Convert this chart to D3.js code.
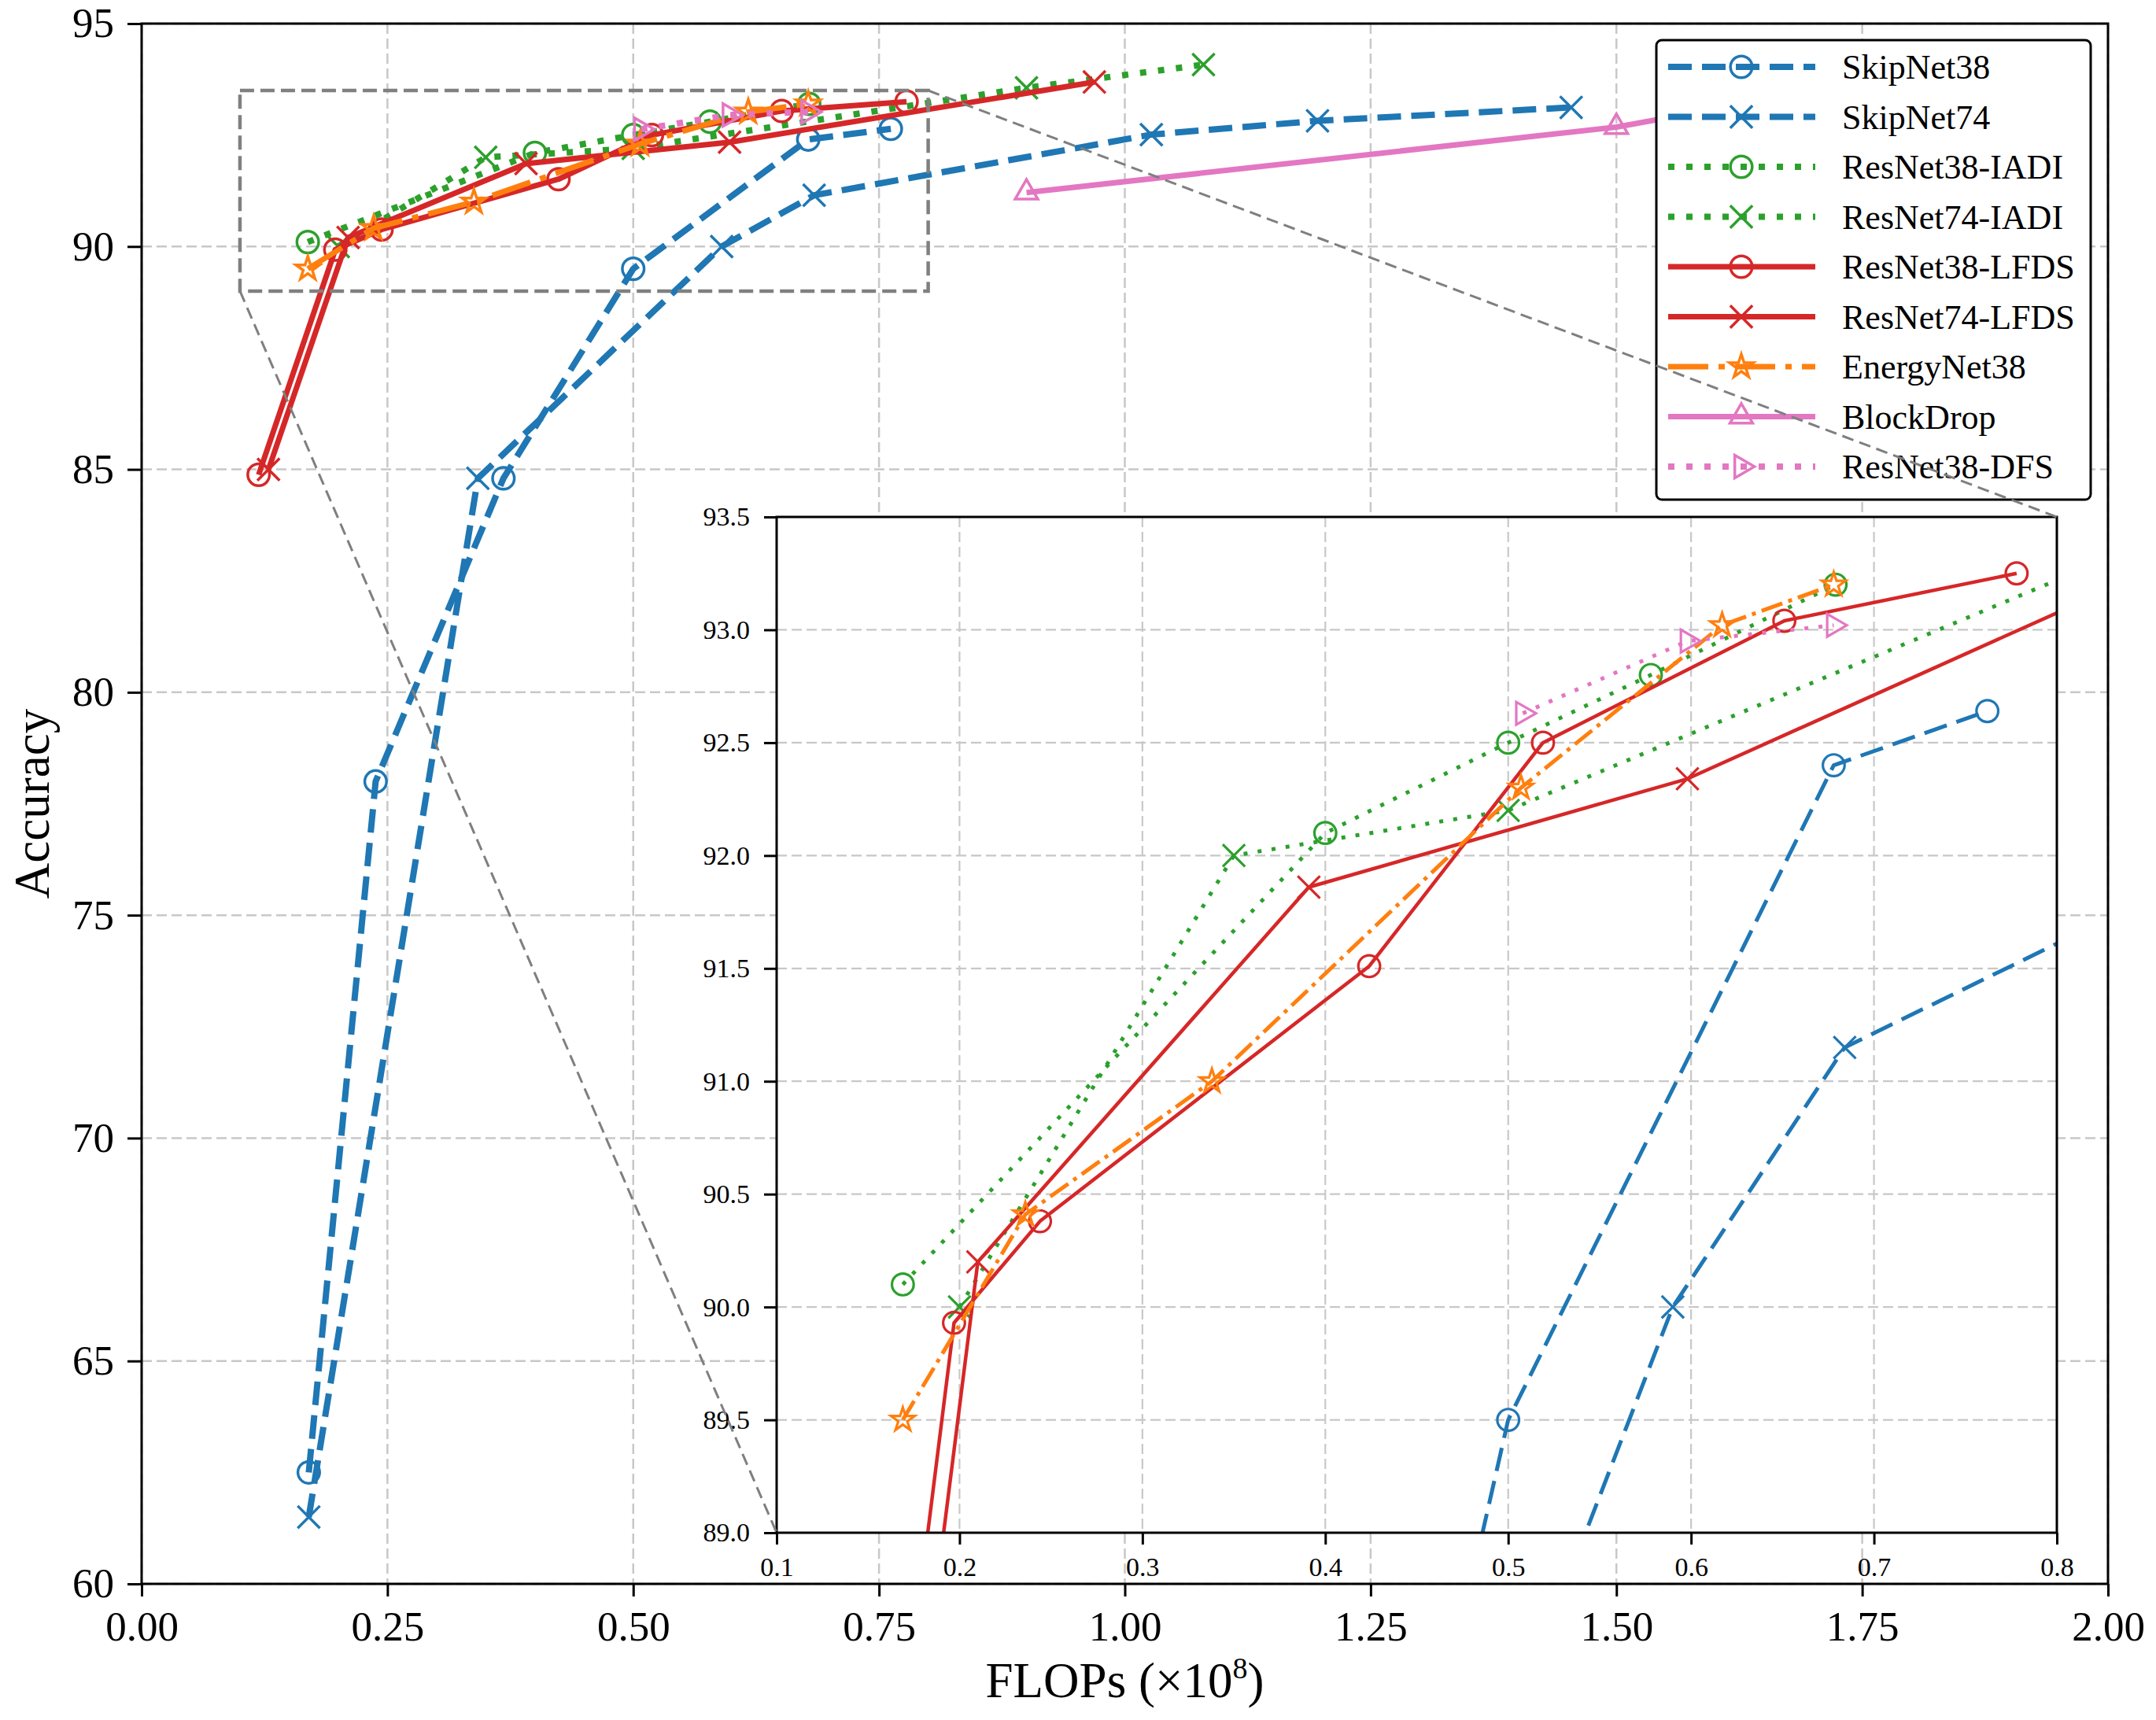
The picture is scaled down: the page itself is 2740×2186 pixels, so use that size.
<!DOCTYPE html>
<html>
<head>
<meta charset="utf-8">
<script src="https://cdn.jsdelivr.net/npm/d3@7"></script>
<style>
  body { margin: 0; background: #fff; }
  text { font-family: "Liberation Serif", "Times New Roman", serif; fill: #000; }
</style>
</head>
<body>
<div id="chart"></div>
<script>
// Data (FLOPs x1e8, accuracy %)
const seriesNames = ["SkipNet38", "SkipNet74", "ResNet38-IADI", "ResNet74-IADI",
  "ResNet38-LFDS", "ResNet74-LFDS", "EnergyNet38", "BlockDrop", "ResNet38-DFS"];

const skipNet38Flops = [0.17, 0.238, 0.368, 0.5, 0.678, 0.762];
const skipNet38Acc   = [62.5, 78.0, 84.8, 89.5, 92.4, 92.64];
const skipNet74Flops = [0.17, 0.342, 0.59, 0.684, 1.027, 1.196, 1.454];
const skipNet74Acc   = [61.5, 84.8, 90.0, 91.15, 92.51, 92.82, 93.12];
const iadi38Flops = [0.169, 0.4, 0.5, 0.578, 0.679];
const iadi38Acc   = [90.1, 92.1, 92.5, 92.8, 93.2];
const iadi74Flops = [0.2, 0.35, 0.5, 0.9, 1.08];
const iadi74Acc   = [90.0, 92.0, 92.2, 93.56, 94.08];
const lfds38Flops = [0.119, 0.197, 0.244, 0.424, 0.519, 0.651, 0.778];
const lfds38Acc   = [84.88, 89.93, 90.38, 91.51, 92.5, 93.04, 93.25];
const lfds74Flops = [0.129, 0.21, 0.391, 0.598, 0.969];
const lfds74Acc   = [85.0, 90.2, 91.86, 92.34, 93.69];
const energyFlops = [0.169, 0.236, 0.338, 0.507, 0.617, 0.678];
const energyAcc   = [89.5, 90.41, 91.0, 92.3, 93.02, 93.2];
const blockDropFlops = [0.9, 1.5, 1.73];
const blockDropAcc   = [91.21, 92.68, 93.6];
const dfsFlops = [0.508, 0.598, 0.678];
const dfsAcc   = [92.63, 92.95, 93.02];

const xTicks = [0, 0.25, 0.5, 0.75, 1.0, 1.25, 1.5, 1.75, 2.0];
const yTicks = [60, 65, 70, 75, 80, 85, 90, 95];
const insetXTicks = [0.1, 0.2, 0.3, 0.4, 0.5, 0.6, 0.7, 0.8];
const insetYTicks = [89.0, 89.5, 90.0, 90.5, 91.0, 91.5, 92.0, 92.5, 93.0, 93.5];
const zoomX = [0.1, 0.8];
const zoomY = [89, 93.5];

// styles per series (same order as seriesNames)
const blue = "#1f77b4", orange = "#ff7f0e", green = "#2ca02c", red = "#d62728", pink = "#e377c2";
const styles = [
  { color: blue,   dash: "30,13",        insetDash: "30,13",    marker: "circle" },
  { color: blue,   dash: "30,13",        insetDash: "30,13",    marker: "x" },
  { color: green,  dash: "8,15",         insetDash: "5,13",     marker: "circle" },
  { color: green,  dash: "8,15",         insetDash: "5,13",     marker: "x" },
  { color: red,    dash: null,           insetDash: null,       marker: "circle" },
  { color: red,    dash: null,           insetDash: null,       marker: "x" },
  { color: orange, dash: "51,13,8,13",   insetDash: "28,8,5,8", marker: "star" },
  { color: pink,   dash: null,           insetDash: null,       marker: "tri" },
  { color: pink,   dash: "8,15",         insetDash: "5,13",     marker: "triRight" }
];

const allFlops = [skipNet38Flops, skipNet74Flops, iadi38Flops, iadi74Flops, lfds38Flops,
  lfds74Flops, energyFlops, blockDropFlops, dfsFlops];
const allAcc = [skipNet38Acc, skipNet74Acc, iadi38Acc, iadi74Acc, lfds38Acc,
  lfds74Acc, energyAcc, blockDropAcc, dfsAcc];

let series = seriesNames.map(function(name, i) {
  return {
    name: name,
    style: styles[i],
    points: allFlops[i].map(function(f, j) { return { flops: f, acc: allAcc[i][j] }; })
  };
});

let svgWidth = 2740;
let svgHeight = 2186;
let margin = { top: 30, right: 61, bottom: 173, left: 180 };
let width = svgWidth - margin.left - margin.right;
let height = svgHeight - margin.top - margin.bottom;

let svg = d3.select("#chart")
  .append("svg")
  .attr("width", svgWidth)
  .attr("height", svgHeight);

svg.append("rect").attr("width", svgWidth).attr("height", svgHeight).attr("fill", "#fff");

let x = d3.scaleLinear().domain([0, 2]).range([margin.left, margin.left + width]);
let y = d3.scaleLinear().domain([60, 95]).range([margin.top + height, margin.top]);

// inset axes position
let inset = { left: 987, right: 2614, top: 657, bottom: 1948 };
let xi = d3.scaleLinear().domain([0.1, 0.8]).range([inset.left, inset.right]);
let yi = d3.scaleLinear().domain([89, 93.5]).range([inset.bottom, inset.top]);

// custom X marker so it does not depend on the d3 minor version
const symbolX = {
  draw: function(context, size) {
    let r = Math.sqrt(size) / 2;
    context.moveTo(-r, -r); context.lineTo(r, r);
    context.moveTo(-r, r); context.lineTo(r, -r);
  }
};

function markerPath(kind) {
  if (kind === "circle") return d3.symbol(d3.symbolCircle, 600)();
  if (kind === "x") return d3.symbol(symbolX, 800)();
  if (kind === "star") return d3.symbol(d3.symbolStar, 280)();
  return d3.symbol(d3.symbolTriangle, 360)();
}

function drawSeries(g, s, sx, sy, lw, dash, strokeW) {
  let line = d3.line().x(function(d) { return sx(d.flops); }).y(function(d) { return sy(d.acc); });
  g.append("path")
    .datum(s.points)
    .attr("d", line)
    .attr("fill", "none")
    .attr("stroke", s.style.color)
    .attr("stroke-width", lw)
    .attr("stroke-dasharray", dash)
    .attr("stroke-linejoin", "round");
  g.selectAll(null)
    .data(s.points)
    .enter()
    .append("path")
    .attr("d", markerPath(s.style.marker))
    .attr("transform", function(d) {
      let t = "translate(" + sx(d.flops) + "," + sy(d.acc) + ")";
      return s.style.marker === "triRight" ? t + " rotate(90)" : t;
    })
    .attr("fill", "none")
    .attr("stroke", s.style.color)
    .attr("stroke-width", strokeW);
}

// ---------- main axes ----------
let grid = svg.append("g").attr("stroke", "#c8c8c8").attr("stroke-width", 2.5).attr("stroke-dasharray", "13,6");
grid.selectAll(null).data(xTicks).enter().append("line")
  .attr("x1", function(d) { return x(d); }).attr("x2", function(d) { return x(d); })
  .attr("y1", margin.top).attr("y2", margin.top + height);
grid.selectAll(null).data(yTicks).enter().append("line")
  .attr("y1", function(d) { return y(d); }).attr("y2", function(d) { return y(d); })
  .attr("x1", margin.left).attr("x2", margin.left + width);

let mainLines = svg.append("g");
series.forEach(function(s) {
  let lw = s.style.color === blue || s.style.dash === "8,15" ? 8 : 7;
  drawSeries(mainLines, s, x, y, lw, s.style.dash, 3.5);
});

// ticks and labels
let xAxisG = svg.append("g")
  .attr("transform", "translate(0," + (margin.top + height) + ")")
  .call(d3.axisBottom(x).tickValues(xTicks).tickFormat(d3.format(".2f")).tickSize(16));
xAxisG.select(".domain").remove();
xAxisG.selectAll("line").attr("stroke-width", 3);
xAxisG.selectAll("text").attr("y", 72).attr("dy", 0)
  .style("font-size", "53px").style("font-family", "Liberation Serif");

let yAxisG = svg.append("g")
  .attr("transform", "translate(" + margin.left + ",0)")
  .call(d3.axisLeft(y).tickValues(yTicks).tickFormat(d3.format("d")).tickSize(18).tickPadding(17));
yAxisG.select(".domain").remove();
yAxisG.selectAll("line").attr("stroke-width", 3);
yAxisG.selectAll("text").style("font-size", "53px").style("font-family", "Liberation Serif");

svg.append("rect")
  .attr("x", margin.left).attr("y", margin.top)
  .attr("width", width).attr("height", height)
  .attr("fill", "none").attr("stroke", "#000").attr("stroke-width", 3);

// axis titles
let xTitle = svg.append("text")
  .attr("x", margin.left + width / 2)
  .attr("y", 2157)
  .attr("text-anchor", "middle")
  .style("font-size", "63px");
xTitle.append("tspan").text("FLOPs (×10");
xTitle.append("tspan").attr("dy", -24).style("font-size", "38px").text("8");
xTitle.append("tspan").attr("dy", 24).text(")");

svg.append("text")
  .attr("transform", "translate(62," + (margin.top + height / 2) + ") rotate(-90)")
  .attr("text-anchor", "middle")
  .style("font-size", "63px")
  .text("Accuracy");

// zoom rectangle on the main axes
svg.append("rect")
  .attr("x", x(zoomX[0])).attr("y", y(zoomY[1]))
  .attr("width", x(zoomX[1]) - x(zoomX[0]))
  .attr("height", y(zoomY[0]) - y(zoomY[1]))
  .attr("fill", "none").attr("stroke", "#808080")
  .attr("stroke-width", 4.5).attr("stroke-dasharray", "18,8");

// ---------- legend ----------
let legend = svg.append("g").attr("transform", "translate(2105,51)");
legend.append("rect")
  .attr("width", 552).attr("height", 584)
  .attr("rx", 7).attr("ry", 7)
  .attr("fill", "#fff").attr("stroke", "#000").attr("stroke-width", 3);

let rows = legend.selectAll(null).data(series).enter().append("g")
  .attr("transform", function(d, i) { return "translate(0," + (34 + i * 63.5) + ")"; });
rows.append("line")
  .attr("x1", 15).attr("x2", 202)
  .attr("stroke", function(d) { return d.style.color; })
  .attr("stroke-width", function(d) { return d.style.color === blue || d.style.dash === "8,15" ? 8 : 7; })
  .attr("stroke-dasharray", function(d) { return d.style.dash; });
rows.append("path")
  .attr("d", function(d) { return markerPath(d.style.marker); })
  .attr("transform", function(d) { return d.style.marker === "triRight" ? "translate(108,0) rotate(90)" : "translate(108,0)"; })
  .attr("fill", "none")
  .attr("stroke", function(d) { return d.style.color; })
  .attr("stroke-width", 3.5);
rows.append("text")
  .attr("x", 236).attr("dy", "0.35em")
  .style("font-size", "44px")
  .text(function(d) { return d.name; });

// ---------- inset axes ----------
let insetG = svg.append("g");
insetG.append("rect")
  .attr("x", inset.left).attr("y", inset.top)
  .attr("width", inset.right - inset.left).attr("height", inset.bottom - inset.top)
  .attr("fill", "#fff");

svg.append("clipPath").attr("id", "insetClip")
  .append("rect")
  .attr("x", inset.left).attr("y", inset.top)
  .attr("width", inset.right - inset.left).attr("height", inset.bottom - inset.top);

let igrid = insetG.append("g").attr("stroke", "#c8c8c8").attr("stroke-width", 2.2).attr("stroke-dasharray", "13,6");
igrid.selectAll(null).data(insetXTicks).enter().append("line")
  .attr("x1", function(d) { return xi(d); }).attr("x2", function(d) { return xi(d); })
  .attr("y1", inset.top).attr("y2", inset.bottom);
igrid.selectAll(null).data(insetYTicks).enter().append("line")
  .attr("y1", function(d) { return yi(d); }).attr("y2", function(d) { return yi(d); })
  .attr("x1", inset.left).attr("x2", inset.right);

let insetLines = insetG.append("g").attr("clip-path", "url(#insetClip)");
series.forEach(function(s) {
  let lw = s.style.color === blue ? 5 : (s.style.dash ? 5 : 4.5);
  drawSeries(insetLines, s, xi, yi, lw, s.style.insetDash, 3.2);
});

let ixAxis = insetG.append("g")
  .attr("transform", "translate(0," + inset.bottom + ")")
  .call(d3.axisBottom(xi).tickValues(insetXTicks).tickFormat(d3.format(".1f")).tickSize(15));
ixAxis.select(".domain").remove();
ixAxis.selectAll("line").attr("stroke-width", 3);
ixAxis.selectAll("text").attr("y", 55).attr("dy", 0)
  .style("font-size", "34px").style("font-family", "Liberation Serif");

let iyAxis = insetG.append("g")
  .attr("transform", "translate(" + inset.left + ",0)")
  .call(d3.axisLeft(yi).tickValues(insetYTicks).tickFormat(d3.format(".1f")).tickSize(16).tickPadding(18));
iyAxis.select(".domain").remove();
iyAxis.selectAll("line").attr("stroke-width", 3);
iyAxis.selectAll("text").style("font-size", "34px").style("font-family", "Liberation Serif");

insetG.append("rect")
  .attr("x", inset.left).attr("y", inset.top)
  .attr("width", inset.right - inset.left).attr("height", inset.bottom - inset.top)
  .attr("fill", "none").attr("stroke", "#000").attr("stroke-width", 3);

// connector lines from zoom box corners to inset corners
let connectors = [
  { x1: x(zoomX[0]), y1: y(zoomY[0]), x2: xi(zoomX[0]), y2: yi(zoomY[0]) },
  { x1: x(zoomX[1]), y1: y(zoomY[1]), x2: xi(zoomX[1]), y2: yi(zoomY[1]) }
];
svg.selectAll(null).data(connectors).enter().append("line")
  .attr("x1", function(d) { return d.x1; }).attr("y1", function(d) { return d.y1; })
  .attr("x2", function(d) { return d.x2; }).attr("y2", function(d) { return d.y2; })
  .attr("stroke", "#7f7f7f").attr("stroke-width", 3).attr("stroke-dasharray", "15,8");
</script>
</body>
</html>
